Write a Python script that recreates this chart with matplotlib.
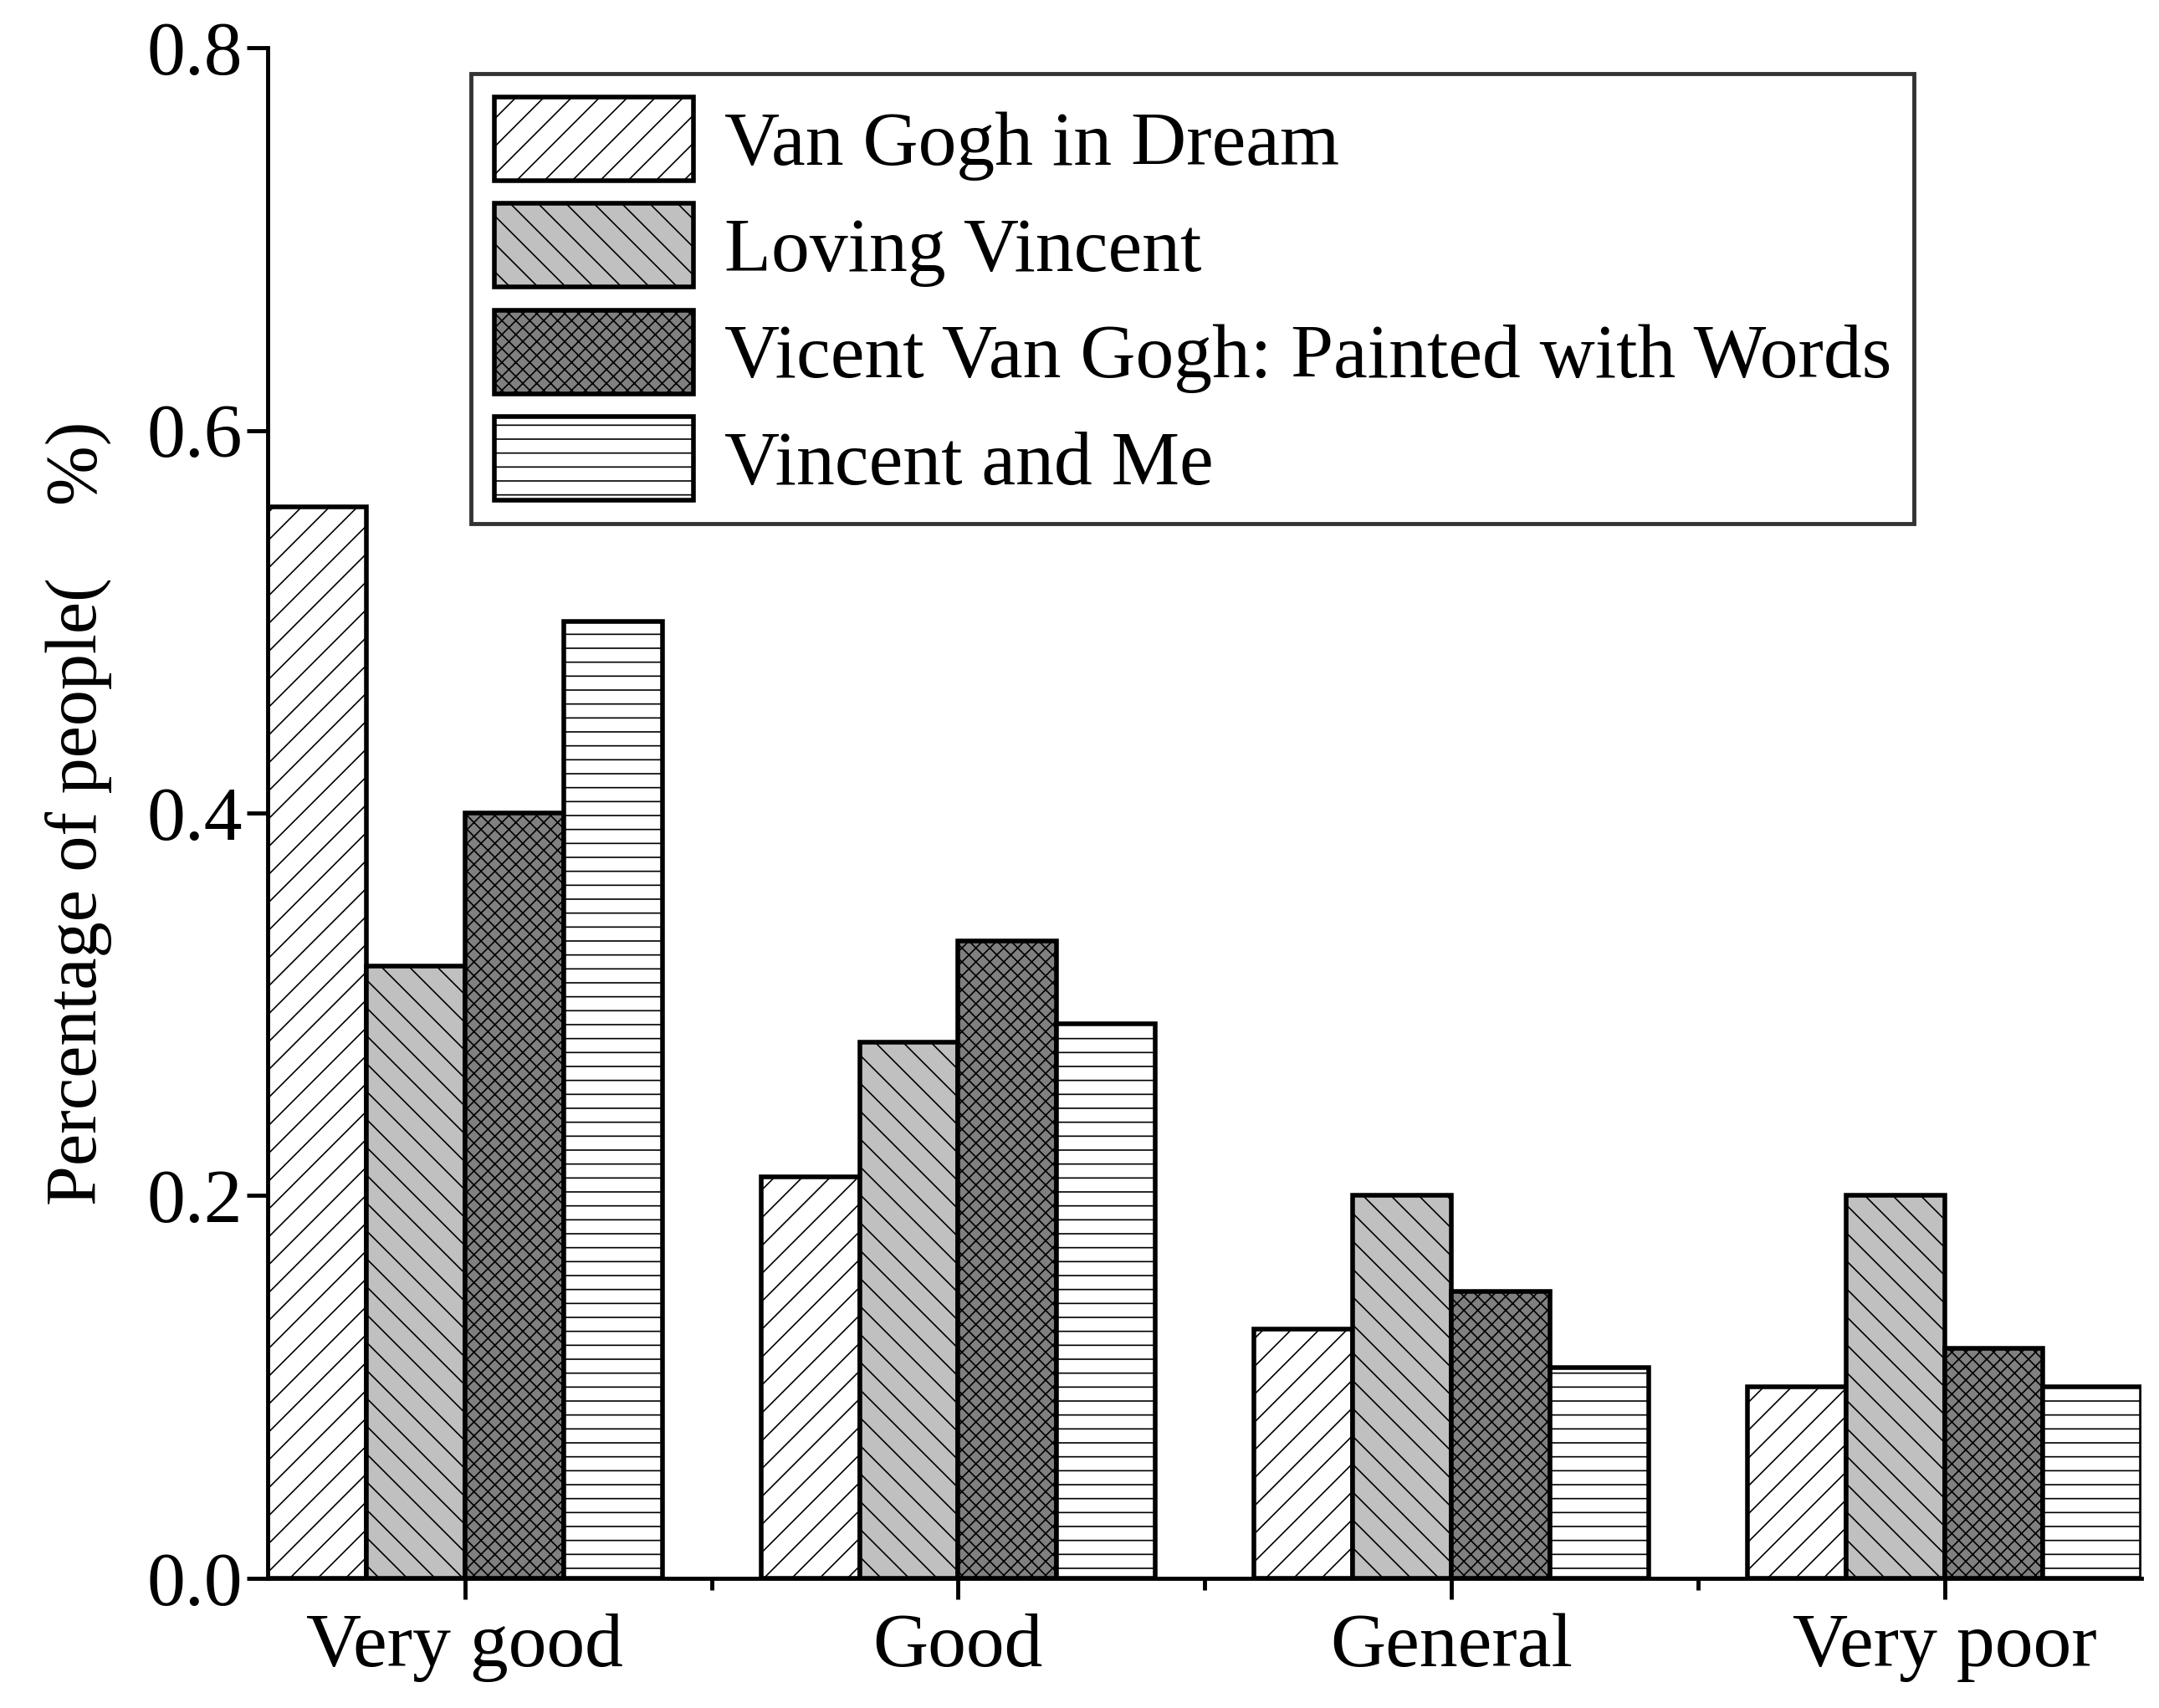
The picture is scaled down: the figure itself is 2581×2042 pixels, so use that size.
import numpy as np
import matplotlib.pyplot as plt

plt.rcParams['font.family'] = ['Liberation Serif', 'DejaVu Serif']
plt.rcParams['hatch.linewidth'] = 1.2

categories = ["Very good", "Good", "General", "Very poor"]
series_names = ["Van Gogh in Dream", "Loving Vincent",
                "Vicent Van Gogh: Painted with Words", "Vincent and Me"]
dream = [0.56, 0.21, 0.13, 0.10]
loving = [0.32, 0.28, 0.20, 0.20]
painted = [0.40, 0.333, 0.15, 0.12]
me = [0.50, 0.29, 0.11, 0.10]
values = [dream, loving, painted, me]

colors = ["white", "#c0c0c0", "#808080", "white"]
hatches = ["/", "\\", "xx", "-"]

fig = plt.figure(figsize=(25.81, 20.42), dpi=100)
ax = fig.add_axes([0.124, 0.076, 0.868, 0.896])

x = np.arange(len(categories))
w = 0.2
for i, (name, vals) in enumerate(zip(series_names, values)):
    ax.bar(x + (i - 1.5) * w, vals, w, color=colors[i], hatch=hatches[i],
           edgecolor="black", linewidth=4, label=name)

ax.set_xlim(-0.4, 3.4)
ax.set_ylim(0, 0.8)
ax.set_xticks(x)
ax.set_xticklabels(categories)
ax.set_xticks(x[:-1] + 0.5, minor=True)
ax.set_yticks(np.arange(0, 0.81, 0.2))
ax.set_yticklabels([f"{v:.1f}" for v in np.arange(0, 0.81, 0.2)])
ax.spines['top'].set_visible(False)
ax.spines['right'].set_visible(False)
for s in ['left', 'bottom']:
    ax.spines[s].set_linewidth(3.5)
ax.tick_params(axis='both', which='major', labelsize=66, width=3.5, length=18, direction='out')
ax.tick_params(axis='x', which='minor', width=3.5, length=10, direction='out')
ax.tick_params(axis='x', pad=12)
ax.set_ylabel("Percentage of people(\u3000%)", fontsize=62, labelpad=30,
              family=['Liberation Serif', 'Noto Sans CJK SC'])

leg = ax.legend(loc='upper left', bbox_to_anchor=(0.088, 1.008), fontsize=66,
                handlelength=2.6, handleheight=1.3, frameon=True, fancybox=False,
                borderpad=0.3, labelspacing=0.3, handletextpad=0.4)
leg.get_frame().set_edgecolor("black")
leg.get_frame().set_linewidth(3.5)

fig.savefig("out.png", dpi=100)
